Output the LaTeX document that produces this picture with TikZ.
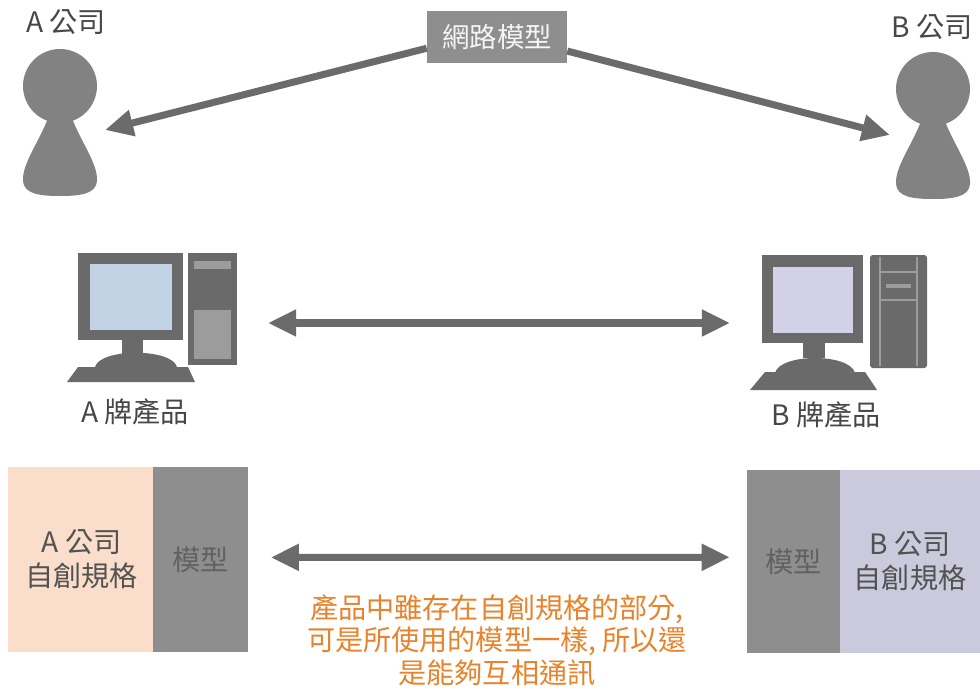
\documentclass[tikz,border=0pt]{standalone}
\usepackage{fontspec}
\setmainfont{Noto Sans CJK TC}
\usetikzlibrary{arrows.meta}

\definecolor{figgray}{HTML}{828282}
\definecolor{arrowgray}{HTML}{6B6B6B}
\definecolor{pcgray}{HTML}{6A6A6A}
\definecolor{panelgray}{HTML}{9C9C9C}
\definecolor{boxgray}{HTML}{8E8E8E}
\definecolor{peach}{HTML}{FBDDCB}
\definecolor{lavender}{HTML}{CBCADD}
\definecolor{noteorange}{HTML}{E8832C}
\definecolor{screenA}{HTML}{C3D3E6}
\definecolor{screenB}{HTML}{D3D1E8}

\tikzset{
  bigarrow/.style={line width=5pt,draw=arrowgray,-{Triangle[length=20pt,width=18pt]}},
  twoarrow/.style={line width=5pt,draw=arrowgray,
    {Triangle[length=20pt,width=18pt]}-{Triangle[length=20pt,width=18pt]}},
  lbl/.style={font=\fontsize{20}{24}\selectfont,text=black!72},
  part/.style={lbl,text=black!68,inner sep=0pt,minimum height=4.6cm,align=center},
}

\begin{document}
\begin{tikzpicture}[x=0.025cm,y=-0.025cm]
  \useasboundingbox (0,0) rectangle (980,691);

  % People
  \foreach \cx/\cy in {60/86, 933/89} {
    \fill[figgray] (\cx,\cy) circle (37);
    \fill[figgray] (\cx-11,\cy+30) .. controls (\cx-22,\cy+58) and (\cx-38,\cy+78) .. (\cx-37,\cy+95)
      .. controls (\cx-36,\cy+108) and (\cx-20,\cy+110) .. (\cx,\cy+110)
      .. controls (\cx+20,\cy+110) and (\cx+36,\cy+108) .. (\cx+37,\cy+95)
      .. controls (\cx+38,\cy+78) and (\cx+22,\cy+58) .. (\cx+11,\cy+30) -- cycle;
  }
  \node[lbl] (coA) at (66,22) {A 公司};
  \node[lbl] (coB) at (932,27) {B 公司};
  \coordinate (userA) at (105,130);
  \coordinate (userB) at (890,135);

  % Network model
  \node[fill=boxgray,text=white!92!gray,font=\fontsize{19.5}{22}\selectfont,
        minimum width=3.5cm,minimum height=1.32cm] (net) at (497,37) {網路模型};
  \draw[bigarrow] ([yshift=-8pt]net.west) -- (userA);
  \draw[bigarrow] ([yshift=-10pt]net.east) -- (userB);

  % Computer A
  \fill[pcgray] (78,253) rectangle (183,340);
  \fill[screenA] (90,264) rectangle (172,330);
  \fill[pcgray] (122,338) rectangle (143,356);
  \fill[pcgray] (95,367) .. controls (100,348) and (172,348) .. (177,367) -- cycle;
  \fill[pcgray] (78,367) -- (188,367) -- (195,382) -- (67,382) -- cycle;
  \fill[pcgray] (188,253) rectangle (237,365);
  \fill[panelgray] (194,261) rectangle (231,269);
  \fill[panelgray] (194,310) rectangle (231,359);
  \node[lbl] (prodA) at (135,412) {A 牌產品};

  % Computer B
  \fill[pcgray] (762,255) rectangle (863,343);
  \fill[screenB] (773,267) rectangle (853,333);
  \fill[pcgray] (803,341) rectangle (825,358);
  \fill[pcgray] (775,373) .. controls (780,353) and (850,353) .. (855,373) -- cycle;
  \fill[pcgray] (765,372) -- (865,372) -- (877,390) -- (750,390) -- cycle;
  \fill[pcgray, rounded corners=2pt] (870,255) rectangle (927,368);
  \draw[panelgray, line width=1pt] (880,257) -- (880,366) (917,257) -- (917,366)
    (880,272) -- (917,272) (880,300) -- (917,300);
  \draw[panelgray, line width=2.5pt] (886,286) -- (911,286);
  \node[lbl] (prodB) at (826,415) {B 牌產品};

  \coordinate (pcA) at (268,323);
  \coordinate (pcB) at (730,323);
  \draw[twoarrow] (pcA) -- (pcB);

  % Own specs and shared model
  \node[part,fill=peach,minimum width=3.675cm] (specA) at (81.5,559.5) {A 公司\\自創規格};
  \node[part,fill=boxgray,text=black!62,minimum width=2.375cm] (modA) at (200.5,559.5) {模型};
  \node[part,fill=boxgray,text=black!62,minimum width=2.325cm,minimum height=4.575cm] (modB) at (793.5,561.5) {模型};
  \node[part,fill=lavender,minimum width=3.5cm,minimum height=4.575cm] (specB) at (910,561.5) {B 公司\\自創規格};
  \draw[twoarrow] ([xshift=16pt,yshift=1.5pt]modA.east) -- ([xshift=-12pt,yshift=3pt]modB.west);

  % Note
  \node[font=\fontsize{20}{23.3}\selectfont,text=noteorange,align=center] (note) at (497,640)
    {產品中雖存在自創規格的部分,\\可是所使用的模型一樣, 所以還\\是能夠互相通訊};
\end{tikzpicture}
\end{document}
